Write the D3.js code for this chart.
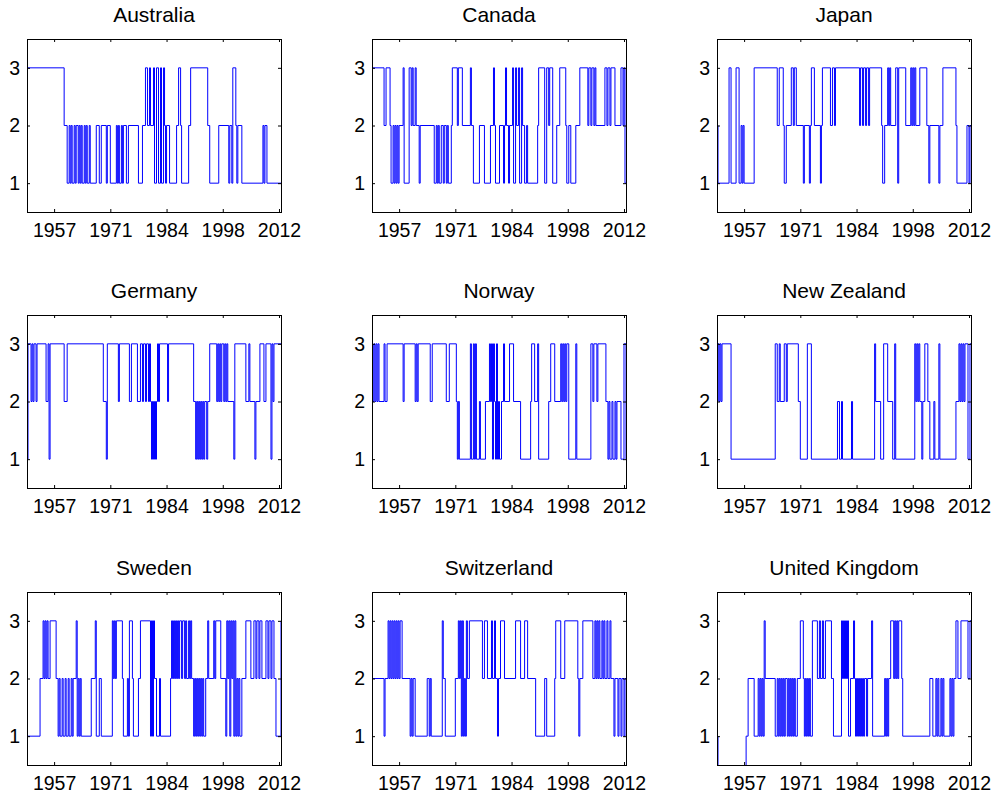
<!DOCTYPE html>
<html>
<head>
<meta charset="utf-8">
<title>Regimes by country</title>
<style>
  body { margin: 0; background: #fff; }
  svg text { font-family: "Liberation Sans", Arial, Helvetica, sans-serif; fill: #000; }
</style>
</head>
<body>
<svg width="995" height="796"></svg>
<script src="https://d3js.org/d3.v7.min.js"></script>
<script>
// quarterly observations, index 1..nObs
const nObs = 254;
const tickIdx = [28, 84, 140, 196, 252];
const tickLabels = ["1957", "1971", "1984", "1998", "2012"];
const yTicks = [1, 2, 3];
const countries = ["Australia", "Canada", "Japan", "Germany", "Norway", "New Zealand",
                   "Sweden", "Switzerland", "United Kingdom"];

// each series: [quarter index where the regime changes, new regime]
const australia = [[1,3],[38,2],[41,1],[43,2],[44,1],[45,2],[46,1],[48,2],[49,1],[50,2],[52,1],[53,2],[54,1],[55,2],[56,1],[58,2],[59,1],[60,2],[61,1],[63,2],[64,1],[70,2],[73,1],[75,2],[80,1],[81,2],[84,1],[90,2],[91,1],[92,2],[93,1],[95,2],[96,1],[97,2],[100,1],[102,2],[112,1],[116,2],[119,3],[121,2],[123,3],[124,2],[127,3],[128,1],[130,3],[132,1],[134,3],[135,1],[137,3],[138,2],[139,1],[140,2],[143,1],[150,2],[152,3],[154,2],[155,1],[162,2],[164,3],[181,2],[183,1],[192,2],[202,1],[203,2],[205,1],[206,3],[209,2],[210,1],[211,2],[215,1],[236,2],[237,1],[238,2],[240,1]];
const canada = [[1,3],[13,2],[15,3],[19,2],[20,1],[22,2],[23,1],[24,2],[25,1],[26,2],[27,1],[28,2],[32,3],[33,1],[38,3],[40,2],[41,3],[42,2],[44,3],[45,2],[48,1],[49,2],[63,1],[65,2],[66,1],[67,2],[68,1],[70,2],[72,1],[73,2],[75,1],[76,2],[77,1],[80,2],[81,3],[86,2],[87,3],[91,2],[99,3],[100,2],[102,1],[108,2],[113,1],[119,2],[122,3],[123,2],[124,1],[128,2],[132,1],[133,2],[134,3],[135,2],[137,1],[138,2],[141,3],[142,1],[144,3],[145,2],[147,3],[148,1],[150,3],[151,2],[153,1],[155,2],[156,1],[166,2],[167,3],[173,1],[175,3],[177,2],[178,3],[181,1],[185,2],[188,3],[194,2],[195,1],[197,2],[199,1],[204,2],[208,3],[216,2],[217,3],[219,2],[220,3],[222,2],[223,3],[224,2],[233,3],[235,2],[236,3],[238,2],[239,3],[243,2],[249,3],[251,2],[252,3],[253,1]];
const japan = [[1,2],[2,1],[13,3],[15,1],[20,3],[23,1],[25,2],[26,1],[27,2],[28,1],[38,3],[61,2],[63,3],[67,2],[68,1],[70,2],[75,3],[77,2],[78,3],[80,2],[87,1],[88,2],[93,1],[94,2],[95,3],[98,2],[104,1],[105,2],[106,3],[114,2],[116,3],[118,2],[119,3],[143,2],[144,3],[146,2],[147,3],[149,2],[150,3],[152,2],[153,3],[165,2],[166,1],[168,2],[171,3],[172,2],[173,3],[174,2],[179,3],[181,1],[182,3],[189,2],[194,3],[195,2],[196,3],[197,2],[198,3],[199,2],[203,3],[210,2],[212,1],[213,2],[222,1],[223,2],[226,3],[239,2],[240,1],[250,2],[252,1],[253,2]];
const germany = [[1,1],[2,3],[5,2],[6,3],[7,2],[8,3],[10,2],[11,3],[20,2],[22,3],[23,1],[24,3],[38,2],[41,3],[77,2],[80,1],[81,3],[92,2],[93,3],[103,2],[105,3],[111,2],[114,3],[116,2],[117,3],[119,2],[120,3],[122,2],[123,3],[124,2],[125,1],[126,2],[127,1],[128,2],[129,1],[130,2],[131,3],[132,2],[133,3],[141,2],[142,3],[167,2],[169,1],[170,2],[171,1],[172,2],[173,1],[174,2],[175,1],[176,2],[177,1],[178,2],[180,1],[181,2],[183,3],[190,2],[191,3],[192,2],[193,3],[194,2],[195,3],[197,2],[198,3],[199,2],[200,3],[201,2],[207,1],[208,3],[219,2],[222,3],[223,2],[228,1],[229,2],[233,3],[237,2],[239,3],[244,1],[245,3],[246,2],[247,3]];
const norway = [[1,3],[2,2],[3,3],[4,2],[5,3],[6,2],[7,3],[8,2],[13,3],[14,2],[16,3],[32,2],[33,3],[44,2],[45,3],[46,2],[47,3],[59,2],[61,3],[75,2],[78,3],[85,2],[86,1],[87,2],[88,1],[99,3],[100,1],[102,3],[103,1],[104,3],[105,1],[108,2],[109,1],[114,2],[118,3],[119,2],[120,3],[121,1],[122,3],[123,2],[124,1],[125,3],[126,1],[127,2],[128,1],[130,2],[132,3],[133,2],[138,3],[142,2],[149,1],[159,2],[160,3],[163,2],[166,3],[167,1],[177,2],[179,3],[183,2],[189,3],[190,2],[191,3],[192,2],[193,3],[194,2],[195,3],[197,1],[204,3],[205,1],[219,3],[221,2],[222,3],[225,2],[226,3],[234,2],[236,1],[237,2],[238,1],[240,2],[241,1],[243,2],[244,1],[245,2],[249,1],[252,3],[254,1]];
const newZealand = [[1,2],[2,3],[3,2],[4,3],[5,2],[6,3],[15,1],[59,3],[61,2],[63,3],[64,2],[68,3],[70,2],[71,3],[82,2],[84,1],[91,3],[95,1],[121,2],[123,1],[125,2],[126,1],[135,2],[136,1],[158,3],[159,2],[164,1],[167,3],[171,2],[176,1],[178,3],[179,1],[198,3],[199,2],[200,3],[201,2],[202,3],[203,2],[205,1],[206,2],[208,3],[211,2],[213,1],[217,2],[218,1],[222,3],[223,1],[239,2],[242,3],[243,2],[244,3],[245,2],[246,3],[247,2],[248,3],[251,1],[253,3]];
const sweden = [[1,1],[14,2],[17,3],[18,2],[19,3],[20,2],[21,3],[22,2],[24,3],[30,2],[32,1],[33,2],[34,1],[36,2],[37,1],[39,2],[40,1],[42,2],[43,1],[45,2],[46,1],[47,2],[50,3],[51,1],[52,2],[53,1],[54,2],[55,1],[65,2],[69,3],[70,1],[73,2],[75,1],[86,3],[87,2],[88,3],[89,2],[90,3],[96,2],[97,1],[101,2],[102,1],[103,3],[106,2],[107,1],[112,2],[114,3],[124,1],[125,3],[126,1],[127,3],[128,2],[130,1],[133,2],[134,1],[144,2],[145,3],[146,2],[147,3],[148,2],[149,3],[150,2],[151,3],[152,2],[153,3],[155,2],[156,3],[158,2],[159,3],[160,2],[162,3],[163,2],[164,3],[165,2],[167,1],[168,2],[169,1],[170,2],[171,1],[172,2],[173,1],[174,2],[175,1],[176,2],[177,1],[179,2],[181,3],[182,2],[187,3],[188,2],[189,3],[194,2],[199,1],[200,3],[201,2],[202,3],[203,1],[204,3],[205,2],[206,3],[207,1],[208,3],[209,1],[210,2],[211,1],[212,2],[213,1],[215,2],[219,3],[224,2],[227,3],[229,2],[230,3],[232,2],[233,3],[235,2],[239,3],[241,2],[242,3],[244,2],[245,3],[247,2],[249,1],[254,3]];
const switzerland = [[1,2],[13,1],[14,2],[17,3],[18,2],[19,3],[20,2],[21,3],[22,2],[23,3],[24,2],[25,3],[26,2],[27,3],[28,2],[29,3],[31,2],[39,1],[40,2],[41,1],[42,2],[44,1],[56,2],[58,1],[59,2],[60,1],[71,3],[72,2],[74,1],[84,2],[87,3],[88,2],[89,3],[90,1],[91,3],[92,1],[93,2],[94,1],[95,3],[96,2],[98,3],[111,2],[113,3],[116,2],[120,3],[121,2],[123,3],[124,2],[126,1],[127,2],[129,3],[133,2],[144,3],[149,2],[153,3],[156,2],[164,1],[173,2],[175,1],[183,2],[184,3],[189,2],[193,3],[206,2],[207,1],[208,2],[211,3],[221,2],[223,3],[224,2],[225,3],[226,2],[227,3],[228,2],[230,3],[231,2],[232,3],[233,2],[235,3],[236,2],[238,3],[239,2],[242,1],[243,2],[246,1],[247,2],[249,1],[250,2],[252,1],[253,2]];
const unitedKingdom = [[1,1],[2,0],[30,1],[32,2],[38,1],[42,2],[43,1],[44,2],[45,1],[46,2],[47,1],[48,3],[49,2],[59,1],[61,2],[62,1],[63,2],[64,1],[65,2],[66,1],[67,2],[68,1],[69,2],[71,1],[72,2],[73,1],[74,2],[75,1],[76,2],[77,1],[78,2],[79,1],[81,2],[84,3],[87,2],[88,1],[89,2],[90,1],[91,2],[92,1],[93,2],[94,1],[96,3],[101,2],[103,3],[104,2],[106,3],[107,2],[109,3],[115,2],[117,1],[125,3],[126,2],[127,3],[128,2],[129,3],[130,2],[131,3],[132,1],[134,2],[137,3],[138,2],[139,1],[140,2],[141,1],[142,2],[143,1],[144,2],[145,1],[146,2],[147,1],[148,2],[150,1],[151,2],[155,3],[156,1],[168,2],[169,1],[170,2],[171,1],[172,2],[174,3],[177,2],[178,3],[179,2],[180,3],[181,2],[182,3],[185,2],[186,1],[213,2],[216,1],[219,2],[220,1],[221,2],[222,1],[224,2],[225,1],[226,2],[227,1],[233,2],[234,1],[235,2],[236,1],[237,2],[239,3],[241,2],[244,3],[251,2],[253,3]];

const series = [australia, canada, japan, germany, norway, newZealand,
                sweden, switzerland, unitedKingdom];

// layout
const colLeft = [27, 372, 717];
const rowTop = [39, 315, 592];
const pw = 254, ph = 173;

const svg = d3.select("svg");

let x = d3.scaleLinear().domain([1, nObs]).range([0, pw]);
let y = d3.scaleLinear().domain([0.5, 3.5]).range([ph, 0]);

let line = d3.line()
  .x(function(d) { return x(d[0]); })
  .y(function(d) { return y(d[1]); })
  .curve(d3.curveStepAfter);

countries.forEach(function(name, i) {
  let g = svg.append("g")
    .attr("transform", "translate(" + colLeft[i % 3] + "," + rowTop[Math.floor(i / 3)] + ")");

  g.append("clipPath").attr("id", "clip" + i)
    .append("rect").attr("width", pw).attr("height", ph);

  // close the last step at the end of the sample
  let pts = series[i].slice();
  let last = pts[pts.length - 1];
  if (last[0] < nObs) pts.push([nObs, last[1]]);

  g.append("path")
    .datum(pts)
    .attr("clip-path", "url(#clip" + i + ")")
    .attr("fill", "none")
    .attr("stroke", "#0000ff")
    .attr("stroke-width", 1)
    .attr("d", line);

  // axes, ticks pointing inward on all four sides
  let bottom = g.append("g").attr("transform", "translate(0," + ph + ")")
    .call(d3.axisBottom(x).tickValues(tickIdx)
      .tickFormat(function(d, k) { return tickLabels[k]; })
      .tickSize(-3).tickSizeOuter(0).tickPadding(11.5));
  let left = g.append("g")
    .call(d3.axisLeft(y).tickValues(yTicks).tickFormat(d3.format("d"))
      .tickSize(-3).tickSizeOuter(0).tickPadding(7));
  g.append("g")
    .call(d3.axisTop(x).tickValues(tickIdx).tickFormat("").tickSize(-3).tickSizeOuter(0));
  g.append("g").attr("transform", "translate(" + pw + ",0)")
    .call(d3.axisRight(y).tickValues(yTicks).tickFormat("").tickSize(-3).tickSizeOuter(0));

  g.selectAll(".domain").remove();
  g.selectAll(".tick line").attr("stroke", "#000");
  [bottom, left].forEach(function(a) {
    a.attr("font-size", 19.5).attr("font-family", null);
  });

  g.append("rect")
    .attr("x", 0.5).attr("y", 0.5)
    .attr("width", pw).attr("height", ph)
    .attr("fill", "none").attr("stroke", "#000").attr("stroke-width", 1);

  g.append("text")
    .attr("x", pw / 2).attr("y", -17)
    .attr("text-anchor", "middle")
    .attr("font-size", 21)
    .text(name);
});
</script>
</body>
</html>
